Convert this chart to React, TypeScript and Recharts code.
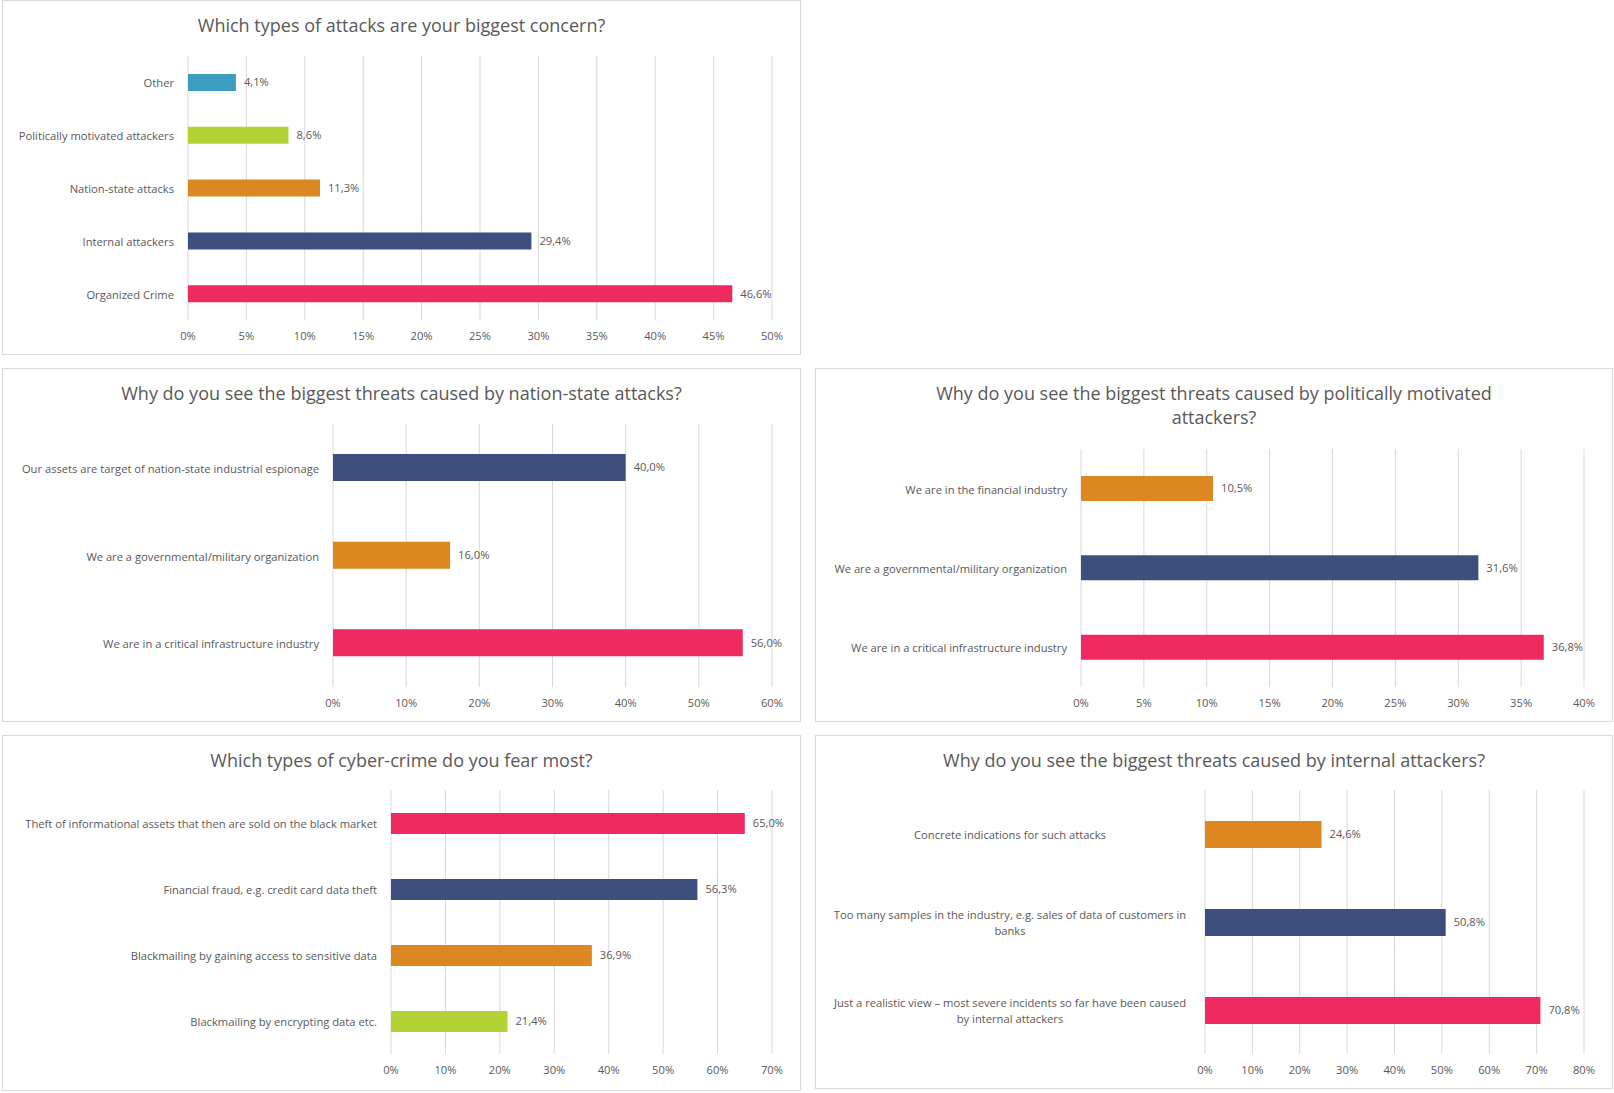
import { Bar, BarChart, CartesianGrid, Cell, LabelList, XAxis, YAxis } from "recharts";

const pink = "#ee2a5e";
const navy = "#3d4f7c";
const orange = "#dc8722";
const lime = "#b2d235";
const teal = "#3b9dbf";

const attackNames = ["Other", "Politically motivated attackers", "Nation-state attacks", "Internal attackers", "Organized Crime"];
const attackValues = [4.1, 8.6, 11.3, 29.4, 46.6];
const attackColors = [teal, lime, orange, navy, pink];

const nationNames = ["Our assets are target of nation-state industrial espionage", "We are a governmental/military organization", "We are in a critical infrastructure industry"];
const nationValues = [40.0, 16.0, 56.0];
const nationColors = [navy, orange, pink];

const politicalNames = ["We are in the financial industry", "We are a governmental/military organization", "We are in a critical infrastructure industry"];
const politicalValues = [10.5, 31.6, 36.8];
const politicalColors = [orange, navy, pink];

const crimeNames = ["Theft of informational assets that then are sold on the black market", "Financial fraud, e.g. credit card data theft", "Blackmailing by gaining access to sensitive data", "Blackmailing by encrypting data etc."];
const crimeValues = [65.0, 56.3, 36.9, 21.4];
const crimeColors = [pink, navy, orange, lime];

const internalNames = ["Concrete indications for such attacks", "Too many samples in the industry, e.g. sales of data of customers in\nbanks", "Just a realistic view – most severe incidents so far have been caused\nby internal attackers"];
const internalValues = [24.6, 50.8, 70.8];
const internalColors = [orange, navy, pink];

const FONT = "'Open Sans', 'Liberation Sans', sans-serif";
const SMALL = 11.2;

type PanelProps = {
  left: number; top: number; w: number; h: number;
  title: string[];
  names: string[]; values: number[]; colors: string[];
  max: number; step: number;
  plotLeft: number; plotRight: number; bandTop: number; bandBottom: number;
  barSize: number; center?: number;
};

function Panel(p: PanelProps) {
  const data = p.names.map((name, i) => ({ name, value: p.values[i], color: p.colors[i] }));
  const ticks: number[] = [];
  for (let t = 0; t <= p.max; t += p.step) ticks.push(t);
  const renderTick = (props: any) => {
    const lines = String(props.payload.value).split("\n");
    const x = p.center !== undefined ? p.center : props.x - 6;
    const y0 = props.y - (lines.length - 1) * 8;
    return (
      <text x={x} y={y0} textAnchor={p.center !== undefined ? "middle" : "end"} fill="#595959" fontSize={SMALL} fontFamily={FONT} dominantBaseline="central">
        {lines.map((l, i) => (
          <tspan key={i} x={x} dy={i === 0 ? 0 : 16}>{l}</tspan>
        ))}
      </text>
    );
  };
  return (
    <div style={{ position: "absolute", left: p.left, top: p.top, width: p.w - 2, height: p.h - 2, border: "1px solid #d9d9d9", background: "#fff" }}>
      <div style={{ position: "absolute", left: 0, right: 0, top: 12, textAlign: "center", fontFamily: FONT, fontSize: 18, color: "#595959", lineHeight: "24px" }}>
        {p.title.map((t) => <div key={t}>{t}</div>)}
      </div>
      <BarChart
        width={p.w - 2}
        height={p.h - 2}
        data={data}
        layout="vertical"
        margin={{ top: p.bandTop, bottom: p.h - p.bandBottom - 30, left: 0, right: p.w - p.plotRight }}
      >
        <CartesianGrid horizontal={false} stroke="#d9d9d9" />
        <XAxis type="number" domain={[0, p.max]} ticks={ticks} axisLine={false} tickLine={false} tickMargin={6} height={30}
          tickFormatter={(v) => `${v}%`} tick={{ fill: "#595959", fontSize: SMALL, fontFamily: FONT }} />
        <YAxis type="category" dataKey="name" width={p.plotLeft} axisLine={false} tickLine={false} tick={renderTick} interval={0} />
        <Bar dataKey="value" barSize={p.barSize} isAnimationActive={false}>
          {data.map((d) => <Cell key={d.name} fill={d.color} />)}
          <LabelList dataKey="value" position="right" offset={8} fill="#595959" fontSize={SMALL} fontFamily={FONT}
            formatter={(v: any) => `${Number(v).toFixed(1).replace(".", ",")}%`} />
        </Bar>
      </BarChart>
    </div>
  );
}

export default function App() {
  return (
    <div style={{ position: "absolute", left: 0, top: 0, width: 1614, height: 1093, background: "#fff" }}>
      <Panel left={2} top={0} w={799} h={355} title={["Which types of attacks are your biggest concern?"]}
        names={attackNames} values={attackValues} colors={attackColors} max={50} step={5}
        plotLeft={185} plotRight={771} bandTop={55} bandBottom={321} barSize={17} />
      <Panel left={2} top={368} w={799} h={354} title={["Why do you see the biggest threats caused by nation-state attacks?"]}
        names={nationNames} values={nationValues} colors={nationColors} max={60} step={10}
        plotLeft={330} plotRight={771} bandTop={55} bandBottom={320} barSize={27} />
      <Panel left={815} top={368} w={798} h={354} title={["Why do you see the biggest threats caused by politically motivated", "attackers?"]}
        names={politicalNames} values={politicalValues} colors={politicalColors} max={40} step={5}
        plotLeft={265} plotRight={770} bandTop={80} bandBottom={320} barSize={25} />
      <Panel left={2} top={735} w={799} h={356} title={["Which types of cyber-crime do you fear most?"]}
        names={crimeNames} values={crimeValues} colors={crimeColors} max={70} step={10}
        plotLeft={388} plotRight={771} bandTop={54} bandBottom={320} barSize={21} />
      <Panel left={815} top={735} w={798} h={354} title={["Why do you see the biggest threats caused by internal attackers?"]}
        names={internalNames} values={internalValues} colors={internalColors} max={80} step={10}
        plotLeft={389} plotRight={770} bandTop={54} bandBottom={320} barSize={27} center={194} />
    </div>
  );
}
